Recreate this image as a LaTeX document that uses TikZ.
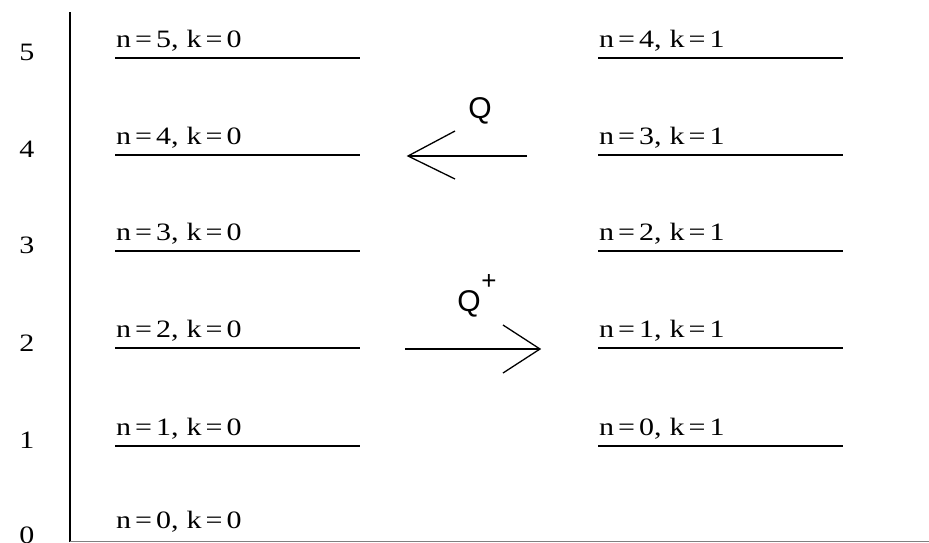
\documentclass[tikz,border=0pt]{standalone}
\usepackage{fontspec}
\setmainfont{Liberation Serif}
\newfontfamily\labfont[FakeStretch=1.2]{Liberation Serif}
\newfontfamily\qfont{Liberation Sans}
\newcommand{\lv}[2]{n\hspace{4pt}=\hspace{4pt}#1,\hspace{8pt}k\hspace{4pt}=\hspace{4pt}#2}
\begin{document}
\begin{tikzpicture}[x=1pt,y=-1pt,
  lvl/.style={line width=1.8pt},
  lab/.style={anchor=base west,inner sep=0pt,font=\labfont\fontsize{25}{27}\selectfont},
  num/.style={anchor=center,inner sep=0pt,font=\labfont\fontsize{25}{27}\selectfont},
  arr/.style={line width=1.3pt},
  ql/.style={inner sep=0pt,font=\qfont\fontsize{30}{32}\selectfont}]
\useasboundingbox (0,0) rectangle (929,542);
% axis
\coordinate (axtop) at (70,12);
\coordinate (axbot) at (70,542);
\draw[line width=1.8pt] (axtop) -- (axbot);
\coordinate (bll) at (70,541);
\coordinate (blr) at (929,541);
\draw[line width=1pt,gray] (bll) -- (blr);
% axis numbers
\foreach \v/\y in {5/52,4/149,3/245,2/343,1/440,0/535}
  \node[num] (ax\v) at (27,\y) {\v};
% left levels
\foreach \n/\y in {5/58,4/155,3/251,2/348,1/446}{
  \coordinate (La\n) at (115,\y);
  \coordinate (Lb\n) at (360,\y);
  \draw[lvl] (La\n) -- (Lb\n);
  \node[lab] (Lt\n) at (116,\y-11) {\lv{\n}{0}};
}
\node[lab] (Lt0) at (116,528) {\lv{0}{0}};
% right levels
\foreach \n/\y in {4/58,3/155,2/251,1/348,0/446}{
  \coordinate (Ra\n) at (598,\y);
  \coordinate (Rb\n) at (843,\y);
  \draw[lvl] (Ra\n) -- (Rb\n);
  \node[lab] (Rt\n) at (599,\y-11) {\lv{\n}{1}};
}
% Q arrow (left)
\coordinate (qs) at (527,156);
\coordinate (qe) at (408,156);
\coordinate (qh1) at (455,131);
\coordinate (qh2) at (455,179);
\draw[arr] (qs) -- (qe);
\draw[arr] (qh1) -- (qe) -- (qh2);
\node[ql] (Q) at (480,111) {Q};
% Q+ arrow (right)
\coordinate (ps) at (405,349);
\coordinate (pe) at (540,349);
\coordinate (ph1) at (503,325);
\coordinate (ph2) at (503,373);
\draw[arr] (ps) -- (pe);
\draw[arr] (ph1) -- (pe) -- (ph2);
\node[ql] (Qp) at (469,304) {Q};
\node[ql,font=\qfont\fontsize{26}{28}\selectfont] (plus) at (489,282) {+};
\end{tikzpicture}
\end{document}
